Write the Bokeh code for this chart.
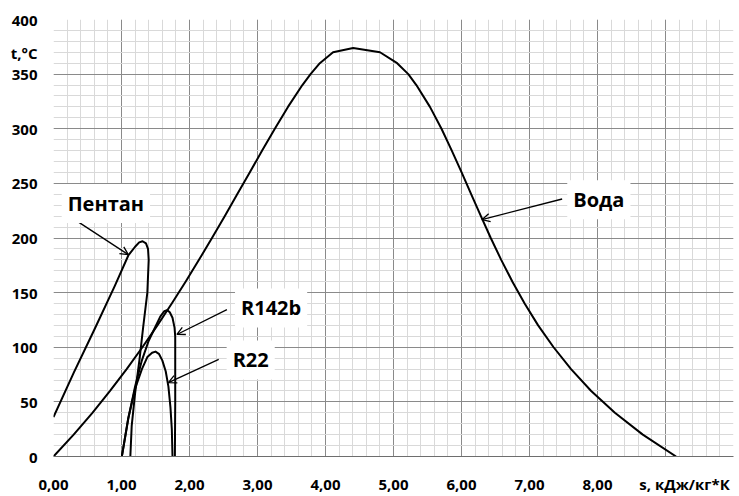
import numpy as np
from bokeh.plotting import figure
from bokeh.models import Range1d, FixedTicker, Label, Arrow, OpenHead
from bokeh.embed import file_html
from bokeh.resources import INLINE

# ---------------- data ----------------
water_s = [0.0, 0.2965, 0.5724, 0.8313, 1.0756, 1.3072, 1.5279, 1.7392, 1.9425, 2.1393,
           2.3305, 2.5178, 2.7015, 2.8854, 3.0683, 3.2548, 3.4480, 3.6601, 3.7800, 3.9167,
           4.1112, 4.4070, 4.8012, 5.0536, 5.2177, 5.3359, 5.5362, 5.7059, 5.8571, 6.0019,
           6.1434, 6.2854, 6.4302, 6.5840, 6.7491, 6.9284, 7.1270, 7.3542, 7.6111, 7.9072,
           8.2556, 8.6661, 9.1556]
water_t = [0, 20, 40, 60, 80, 100, 120, 140, 160, 180,
           200, 220, 240, 260, 280, 300, 320, 340, 350, 360,
           370, 373.95, 370, 360, 350, 340, 320, 300, 280, 260,
           240, 220, 200, 180, 160, 140, 120, 100, 80, 60,
           40, 20, 0]

pentane_s = [0.00, 0.30, 0.60, 0.90, 1.10, 1.20, 1.26, 1.31, 1.36, 1.39, 1.40, 1.38, 1.32, 1.265, 1.20, 1.15, 1.13]
pentane_t = [36, 77, 116, 156, 184, 192, 196, 197, 195, 190, 180, 150, 119, 89, 58, 28, 0]

r142b_s = [1.005, 1.10, 1.20, 1.30, 1.40, 1.50, 1.57, 1.63, 1.67, 1.71, 1.75, 1.78, 1.79, 1.79, 1.785]
r142b_t = [0, 35, 64, 88, 106, 119, 128, 133, 134, 132, 127, 118, 110, 50, 0]

r22_s = [1.005, 1.10, 1.20, 1.30, 1.38, 1.45, 1.50, 1.55, 1.60, 1.65, 1.69, 1.72, 1.74, 1.75]
r22_t = [0, 35, 62, 80, 91, 95, 96, 94, 88, 78, 64, 45, 25, 0]

x_ticks = [0, 1, 2, 3, 4, 5, 6, 7, 8, 9, 10]
x_tick_labels = ["0,00", "1,00", "2,00", "3,00", "4,00", "5,00", "6,00", "7,00", "8,00", "", ""]
y_ticks = [0, 50, 100, 150, 200, 250, 300, 350, 400]
y_tick_labels = ["0", "50", "100", "150", "200", "250", "300", "350", "400"]

x_title = "s, кДж/кг*К"
x_title_pos = 9.28
y_title = "t,°C"
y_title_pos = 369

# labels: text, text position, arrow start, arrow end
annotations = [
    ("Пентан", (0.77, 231.5), (0.20, 221.4), (1.10, 184.8)),
    ("Вода", (8.02, 235.0), (7.48, 235.7), (6.30, 216.8)),
    ("R142b", (3.20, 136.0), (2.55, 134.5), (1.815, 111.7)),
    ("R22", (2.90, 88.4), (2.43, 88.9), (1.69, 67.6)),
]

FONT = "Open Sans"

p = figure(width=739, height=496, x_range=Range1d(0, 10), y_range=Range1d(0, 400),
           output_backend="svg", toolbar_location=None,
           min_border_left=53, min_border_right=6, min_border_top=19, min_border_bottom=39)
p.outline_line_color = None
p.background_fill_color = "white"
p.border_fill_color = "white"

# grid tickers (only real ticks)
xg = FixedTicker(ticks=x_ticks, minor_ticks=list(np.arange(0, 10.001, 0.2)))
yg = FixedTicker(ticks=y_ticks, minor_ticks=list(np.arange(0, 400.1, 10)))
p.xgrid.ticker = xg
p.ygrid.ticker = yg

# axis tickers (ticks + axis title positions)
p.xaxis.ticker = FixedTicker(ticks=x_ticks + [x_title_pos], minor_ticks=[])
p.yaxis.ticker = FixedTicker(ticks=y_ticks + [y_title_pos], minor_ticks=[])
xo = {t: l for t, l in zip(x_ticks, x_tick_labels)}
xo[x_title_pos] = x_title
yo = {t: l for t, l in zip(y_ticks, y_tick_labels)}
yo[y_title_pos] = y_title
p.xaxis.major_label_overrides = xo
p.yaxis.major_label_overrides = yo

for g in (p.xgrid, p.ygrid):
    g.grid_line_color = "#8a8a8a"
    g.grid_line_width = 1
    g.minor_grid_line_color = "#d9d9d9"
    g.minor_grid_line_width = 1

for ax in (p.xaxis, p.yaxis):
    ax.major_tick_line_color = None
    ax.minor_tick_line_color = None
    ax.major_label_text_font = FONT
    ax.major_label_text_font_style = "bold"
    ax.major_label_text_font_size = "15px"
    ax.major_label_text_color = "black"
p.xaxis.axis_line_color = "#6e6e6e"
p.yaxis.axis_line_color = None
p.xaxis.major_label_standoff = 11
p.yaxis.major_label_standoff = 10

for s, t in ((water_s, water_t), (pentane_s, pentane_t), (r142b_s, r142b_t), (r22_s, r22_t)):
    p.line(s, t, line_color="black", line_width=2, line_join="round")

for text, (tx, ty), (sx, sy), (ex, ey) in annotations:
    p.add_layout(Arrow(end=OpenHead(size=8, line_width=1.3, line_color="black"),
                       x_start=sx, y_start=sy, x_end=ex, y_end=ey,
                       line_width=1.3, line_color="black"))
    p.add_layout(Label(x=tx, y=ty, text=text, text_align="center", text_baseline="middle",
                       text_font=FONT, text_font_style="bold", text_font_size="20px",
                       text_color="black", background_fill_color="white", padding=6))

open("out.html", "w").write(file_html(p, INLINE))
